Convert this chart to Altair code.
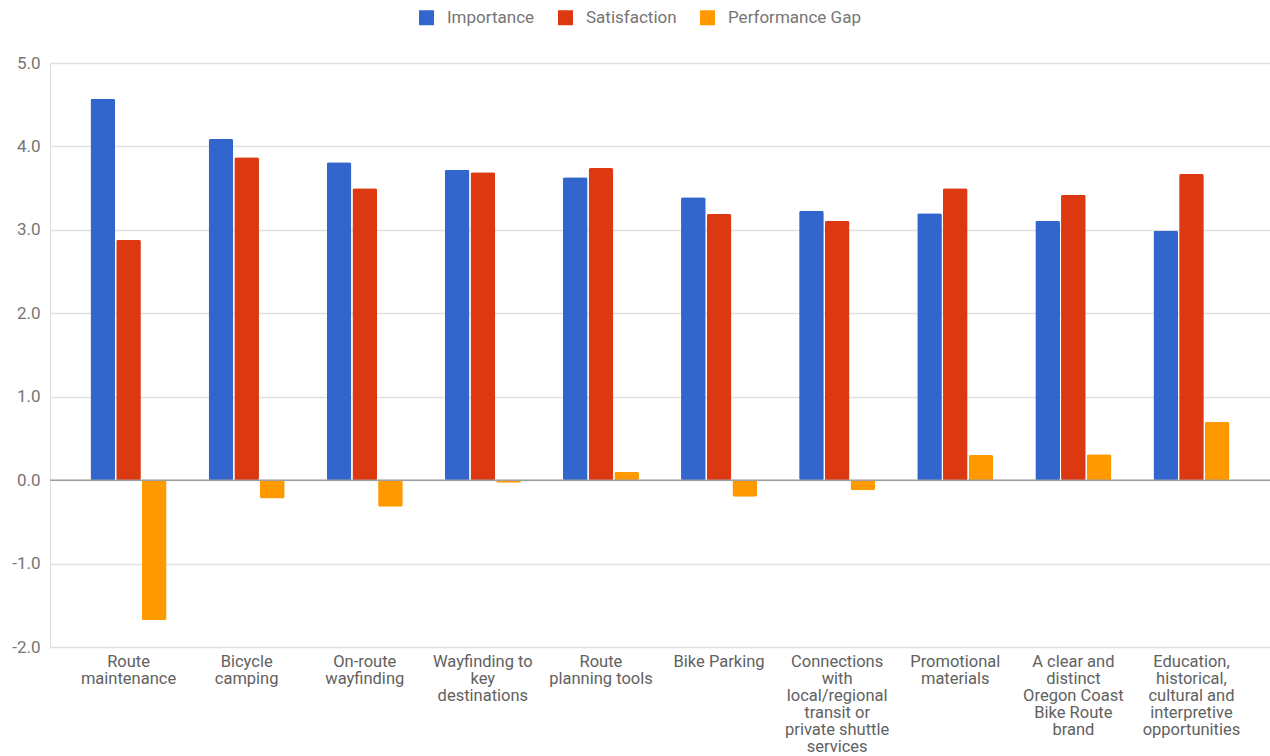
import altair as alt
import pandas as pd

categories = [
    "Route\nmaintenance",
    "Bicycle\ncamping",
    "On-route\nwayfinding",
    "Wayfinding to\nkey\ndestinations",
    "Route\nplanning tools",
    "Bike Parking",
    "Connections\nwith\nlocal/regional\ntransit or\nprivate shuttle\nservices",
    "Promotional\nmaterials",
    "A clear and\ndistinct\nOregon Coast\nBike Route\nbrand",
    "Education,\nhistorical,\ncultural and\ninterpretive\nopportunities",
]
importance = [4.57, 4.09, 3.81, 3.72, 3.63, 3.39, 3.23, 3.20, 3.11, 2.99]
satisfaction = [2.88, 3.87, 3.50, 3.69, 3.74, 3.19, 3.11, 3.50, 3.42, 3.67]
gap = [-1.68, -0.22, -0.32, -0.03, 0.10, -0.20, -0.12, 0.30, 0.31, 0.70]

series = ["Importance", "Satisfaction", "Performance Gap"]
colors = ["#3366cc", "#dc3912", "#ff9900"]
y_ticks = [-2, -1, 0, 1, 2, 3, 4, 5]

rows = []
for i, c in enumerate(categories):
    for s, vals in zip(series, [importance, satisfaction, gap]):
        rows.append({"category": c, "series": s, "value": vals[i]})
df = pd.DataFrame(rows)

FONT = "Roboto"

bars = alt.Chart(df).mark_bar(cornerRadius=2).encode(
    x=alt.X(
        "category:N",
        sort=categories,
        scale=alt.Scale(paddingInner=0.356, paddingOuter=0.343),
        axis=alt.Axis(
            title=None, labelAngle=0, ticks=False, domain=False,
            labelExpr="split(datum.label, '\\n')",
            labelFontSize=16.5, labelColor="#616161", labelFont=FONT,
            labelLineHeight=17, labelPadding=6, labelLimit=200,
            labelBaseline="top",
        ),
    ),
    xOffset=alt.XOffset("series:N", sort=series, scale=alt.Scale(paddingInner=0.04)),
    y=alt.Y(
        "value:Q",
        scale=alt.Scale(domain=[-2, 5], nice=False, zero=False),
        axis=alt.Axis(
            title=None, values=y_ticks, ticks=False, domain=False,
            labelExpr="replace(format(datum.value, '.1f'), '\u2212', '-')",
            gridColor="#e0e0e0", gridWidth=1.5, labelFontSize=17,
            labelColor="#757575", labelFont=FONT, labelPadding=10,
        ),
    ),
    color=alt.Color(
        "series:N",
        sort=series,
        scale=alt.Scale(domain=series, range=colors),
        legend=alt.Legend(
            title=None, orient="none", direction="horizontal",
            legendX=368, legendY=-54, symbolType="square", symbolSize=225,
            symbolStrokeWidth=0, labelFontSize=17, labelColor="#757575",
            labelFont=FONT, columnPadding=22, labelOffset=12,
        ),
    ),
)

zero = alt.Chart(pd.DataFrame({"v": [0]})).mark_rule(color="#9e9e9e", strokeWidth=1.5).encode(
    y="v:Q"
)

chart = alt.layer(bars, zero).properties(
    width=1220, height=584,
    padding={"left": 50, "top": 63, "right": 0, "bottom": 109},
    autosize=alt.AutoSizeParams(type="none"),
).configure_view(stroke=None).configure(background="white")

chart.save("out.html", embed_options={"renderer": "svg", "actions": False})
